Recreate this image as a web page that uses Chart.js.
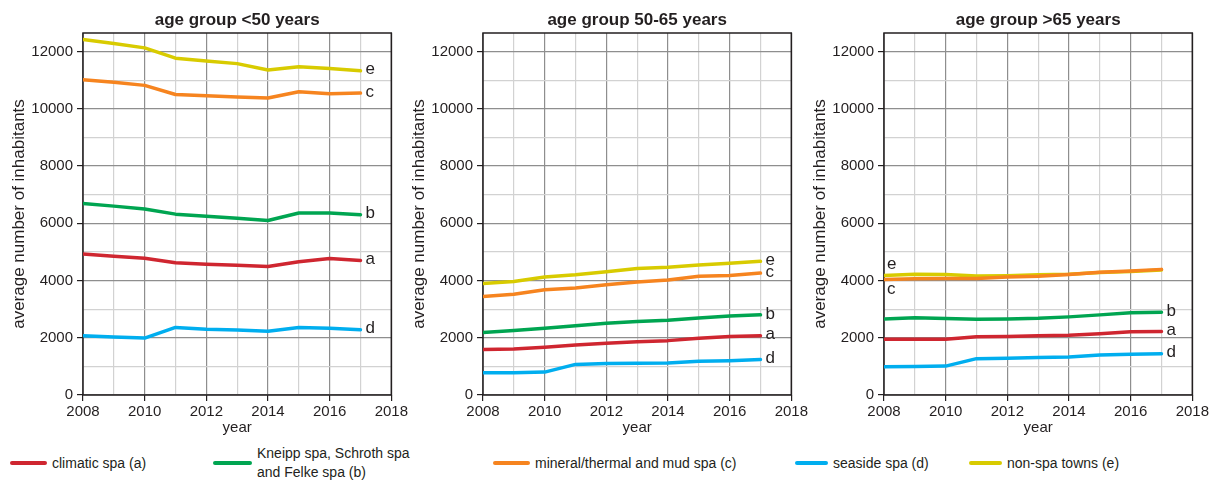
<!DOCTYPE html>
<html><head><meta charset="utf-8">
<script src="https://cdn.jsdelivr.net/npm/chart.js@4.4.1/dist/chart.umd.min.js"></script>
<style>
html,body{margin:0;padding:0;background:#fff;}
body{width:1221px;height:484px;position:relative;overflow:hidden;font-family:"Liberation Sans",Arial,sans-serif;color:#231f20;}
.pc{position:absolute;top:0;width:410px;height:440px;}
.leg{position:absolute;font-size:14px;line-height:19px;color:#231f20;white-space:nowrap;}
.sw{position:absolute;height:4px;border-radius:2px;}
</style></head><body>
<div class="pc" style="left:0"><canvas id="c0" width="410" height="440"></canvas></div>
<div class="pc" style="left:400px"><canvas id="c1" width="410" height="440"></canvas></div>
<div class="pc" style="left:801px"><canvas id="c2" width="410" height="440"></canvas></div>
<div id="legend"></div>
<script>
// ---- data ----
const years = [2008, 2009, 2010, 2011, 2012, 2013, 2014, 2015, 2016, 2017];
const xGridLines = [2008, 2009, 2010, 2011, 2012, 2013, 2014, 2015, 2016, 2017, 2018];
const xTickLabels = [2008, 2010, 2012, 2014, 2016, 2018];
const yGridLines = [0, 1000, 2000, 3000, 4000, 5000, 6000, 7000, 8000, 9000, 10000, 11000, 12000];
const yTickLabels = [0, 2000, 4000, 6000, 8000, 10000, 12000];
const panelTitles = ['age group <50 years', 'age group 50-65 years', 'age group >65 years'];
const seriesNames = ['climatic spa (a)', 'Kneipp spa, Schroth spa\nand Felke spa (b)', 'mineral/thermal and mud spa (c)', 'seaside spa (d)', 'non-spa towns (e)'];
const seriesLetters = ['a', 'b', 'c', 'd', 'e'];
const seriesColors = ['#cf2630', '#00a551', '#f6841f', '#00aeef', '#d8cb00'];

const under50_a = [4930, 4850, 4780, 4620, 4570, 4530, 4490, 4660, 4770, 4700];
const under50_b = [6690, 6600, 6500, 6320, 6250, 6180, 6100, 6360, 6360, 6300];
const under50_c = [11020, 10930, 10820, 10500, 10460, 10410, 10380, 10600, 10530, 10550];
const under50_d = [2070, 2030, 1990, 2360, 2300, 2270, 2230, 2360, 2330, 2280];
const under50_e = [12420, 12280, 12130, 11770, 11670, 11580, 11360, 11470, 11410, 11330];

const mid_a = [1590, 1610, 1670, 1750, 1810, 1860, 1900, 1980, 2040, 2070];
const mid_b = [2180, 2250, 2330, 2420, 2510, 2570, 2610, 2690, 2760, 2800];
const mid_c = [3440, 3520, 3680, 3740, 3850, 3950, 4020, 4150, 4180, 4260];
const mid_d = [780, 780, 800, 1070, 1100, 1110, 1120, 1180, 1200, 1240];
const mid_e = [3900, 3970, 4120, 4200, 4310, 4420, 4460, 4540, 4600, 4670];

const over65_a = [1950, 1950, 1950, 2035, 2045, 2070, 2090, 2140, 2210, 2220];
const over65_b = [2660, 2700, 2670, 2650, 2660, 2680, 2730, 2800, 2870, 2890];
const over65_c = [4035, 4060, 4070, 4070, 4120, 4150, 4210, 4290, 4330, 4390];
const over65_d = [990, 1000, 1010, 1270, 1280, 1310, 1330, 1400, 1420, 1440];
const over65_e = [4175, 4220, 4210, 4160, 4170, 4200, 4220, 4280, 4320, 4370];

const panels = [
  [under50_a, under50_b, under50_c, under50_d, under50_e],
  [mid_a, mid_b, mid_c, mid_d, mid_e],
  [over65_a, over65_b, over65_c, over65_d, over65_e]
];

// ---- styling ----
const TXT = '#231f20';
const MAJOR = '#8e8e8e';
const MINOR = '#d2d2d2';
const FONT = '"Liberation Sans", Arial, sans-serif';
Chart.defaults.font.family = FONT;
Chart.defaults.color = TXT;

const framePlugin = {
  id: 'frame',
  beforeDatasetsDraw(chart) {
    const a = chart.chartArea, ctx = chart.ctx;
    ctx.save();
    ctx.strokeStyle = TXT; ctx.lineWidth = 1.5;
    ctx.strokeRect(a.left, a.top, a.right - a.left, a.bottom - a.top);
    ctx.restore();
  },
  afterDraw(chart, args, opts) {
    const a = chart.chartArea, ctx = chart.ctx;
    ctx.save();
    ctx.fillStyle = TXT;
    ctx.font = 'bold 17px ' + FONT;
    ctx.textAlign = 'center'; ctx.textBaseline = 'middle';
    ctx.fillText(opts.title, (a.left + a.right) / 2, 20);
    // series letters
    ctx.font = '17px ' + FONT;
    ctx.textAlign = 'left';
    chart.data.datasets.forEach((ds, i) => {
      const meta = chart.getDatasetMeta(i);
      const n = ds.data.length;
      let pt, dx = 5, dy = -1;
      if (opts.startLabels && opts.startLabels[i] !== undefined) {
        pt = meta.data[0]; dx = 3; dy = opts.startLabels[i];
      } else {
        pt = meta.data[n - 1];
      }
      ctx.fillText(seriesLetters[i], pt.x + dx, pt.y + dy);
    });
    ctx.restore();
  }
};

function makeChart(id, p) {
  const datasets = panels[p].map((vals, i) => ({
    label: seriesNames[i],
    data: vals.map((v, k) => ({x: years[k], y: v})),
    borderColor: seriesColors[i],
    backgroundColor: seriesColors[i],
    borderWidth: 3.5,
    pointRadius: 0,
    tension: 0,
    borderJoinStyle: 'round',
    borderCapStyle: 'round'
  }));
  return new Chart(document.getElementById(id), {
    type: 'line',
    data: {datasets},
    plugins: [framePlugin],
    options: {
      responsive: false,
      animation: false,
      devicePixelRatio: 1,
      layout: {padding: {top: 33, right: 10, bottom: 0, left: 0}},
      plugins: {
        legend: {display: false},
        tooltip: {enabled: false},
        frame: {title: panelTitles[p], startLabels: p === 2 ? {2: 10, 4: -11} : null}
      },
      scales: {
        x: {
          type: 'linear', min: 2008, max: 2018,
          afterBuildTicks: s => { s.ticks = xGridLines.map(v => ({value: v})); },
          afterFit: s => { s.height = 45; },
          ticks: {
            autoSkip: false, maxRotation: 0, padding: 2,
            font: {size: 15}, color: TXT,
            callback: v => xTickLabels.includes(v) ? String(v) : ''
          },
          grid: {
            color: c => (c.tick && xTickLabels.includes(c.tick.value)) ? MAJOR : MINOR,
            lineWidth: 1.2,
            tickLength: 6, tickWidth: 1.2,
            tickColor: c => (c.tick && xTickLabels.includes(c.tick.value)) ? TXT : 'rgba(0,0,0,0)'
          },
          border: {display: false},
          title: {display: true, text: 'year', font: {size: 15}, color: TXT, padding: {top: 0, bottom: 3}}
        },
        y: {
          min: 0, max: 12650,
          afterBuildTicks: s => { s.ticks = yGridLines.map(v => ({value: v})); },
          afterFit: s => { s.width = 83; },
          ticks: {
            autoSkip: false, padding: 4,
            font: {size: 15}, color: TXT,
            callback: v => yTickLabels.includes(v) ? String(v) : ''
          },
          grid: {
            color: c => (c.tick && yTickLabels.includes(c.tick.value)) ? MAJOR : MINOR,
            lineWidth: 1.2,
            tickLength: 6, tickWidth: 1.2,
            tickColor: c => (c.tick && yTickLabels.includes(c.tick.value)) ? TXT : 'rgba(0,0,0,0)'
          },
          border: {display: false},
          title: {display: true, text: 'average number of inhabitants', font: {size: 17}, color: TXT, padding: {top: 9, bottom: 0}}
        }
      }
    }
  });
}
makeChart('c0', 0);
makeChart('c1', 1);
makeChart('c2', 2);

// ---- HTML legend ----
const legendPos = [
  {line: 10, text: 52}, {line: 213, text: 257}, {line: 493, text: 535},
  {line: 795, text: 833}, {line: 969, text: 1007}
];
const legendEl = document.getElementById('legend');
seriesNames.forEach((name, i) => {
  const sw = document.createElement('div');
  sw.className = 'sw';
  sw.style.left = legendPos[i].line + 'px';
  sw.style.width = (legendPos[i].text - legendPos[i].line - 5) + 'px';
  sw.style.top = '461px';
  sw.style.background = seriesColors[i];
  legendEl.appendChild(sw);
  const tx = document.createElement('div');
  tx.className = 'leg';
  tx.style.left = legendPos[i].text + 'px';
  const lines = name.split('\n');
  tx.style.top = (463 - lines.length * 19 / 2) + 'px';
  tx.innerHTML = lines.map(l => l.replace(/</g, '&lt;')).join('<br>');
  legendEl.appendChild(tx);
});
</script>
</body></html>
